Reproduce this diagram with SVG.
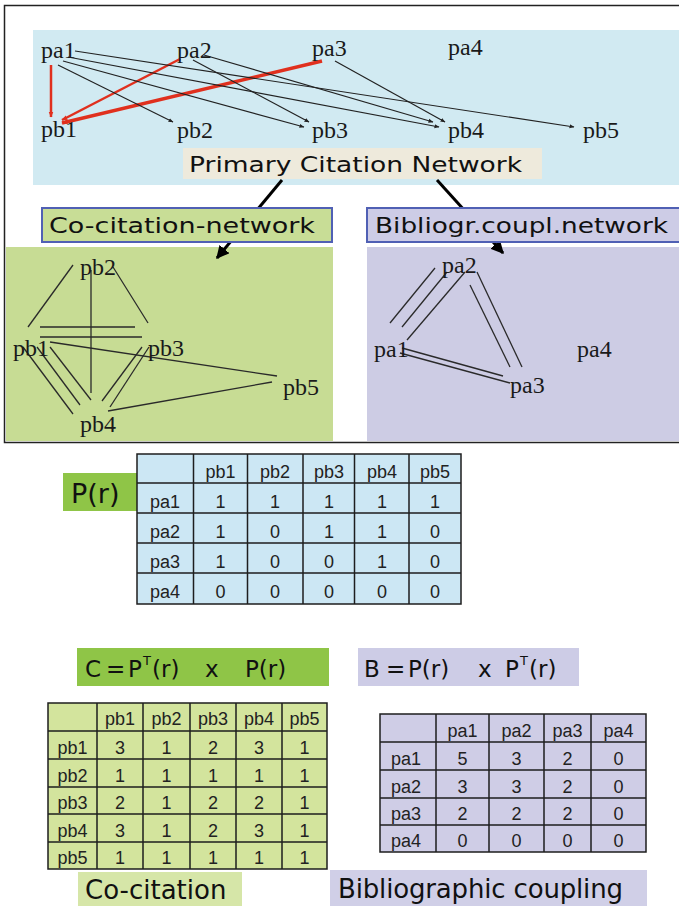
<svg xmlns="http://www.w3.org/2000/svg" width="679" height="906" viewBox="0 0 679 906">
<style>
.ser{font-family:"Liberation Serif","Times New Roman",serif;font-size:24px;fill:#1a1a1a}
.sans{font-family:"DejaVu Sans",Verdana,sans-serif;fill:#111}
.tb{font-family:"Liberation Sans",Arial,sans-serif;font-size:18px;fill:#222;text-anchor:middle}
.thin{stroke:#222;stroke-width:1.2;fill:none}
.red{stroke:#e0301e;fill:none}
.g{stroke:#2a2a2a;stroke-width:1.3;fill:none}
.grid{stroke:#1e1e1e;stroke-width:1.5;fill:none}
</style>
<defs>
<marker id="sm" viewBox="0 0 10 10" refX="9" refY="5" markerWidth="5" markerHeight="5" markerUnits="userSpaceOnUse" orient="auto"><path d="M0,1 L10,5 L0,9 z" fill="#222"/></marker>
<marker id="smr" viewBox="0 0 10 10" refX="9" refY="5" markerWidth="6" markerHeight="6" markerUnits="userSpaceOnUse" orient="auto"><path d="M0,1 L10,5 L0,9 z" fill="#e0301e"/></marker>
<marker id="big" viewBox="0 0 10 10" refX="9" refY="5" markerWidth="13" markerHeight="13" markerUnits="userSpaceOnUse" orient="auto"><path d="M0,0 L10,5 L0,10 z" fill="#000"/></marker>
</defs>

<!-- frame and panels -->
<rect x="4.5" y="5.5" width="690" height="437" fill="#ffffff" stroke="#222" stroke-width="1.5"/>
<rect id="primary-panel" x="33" y="30" width="646" height="155" fill="#d1eaf2"/>
<rect id="cocit-panel" x="6" y="247" width="327" height="194" fill="#c7dc94"/>
<rect id="biblio-panel" x="367" y="247" width="312" height="194" fill="#cdcce4"/>

<!-- connectors -->
<g id="connectors">
  <line class="red" stroke-width="2.5" x1="51" y1="65" x2="51" y2="117" marker-end="url(#smr)"/>
  <line class="red" stroke-width="2.5" x1="180" y1="59" x2="62" y2="120" marker-end="url(#smr)"/>
  <line class="red" stroke-width="3.5" x1="322" y1="61" x2="62" y2="123" marker-end="url(#smr)"/>
  <line class="thin" x1="58" y1="65" x2="173" y2="122" marker-end="url(#sm)"/>
  <line class="thin" x1="63" y1="61" x2="304" y2="127" marker-end="url(#sm)"/>
  <line class="thin" x1="68" y1="57" x2="439" y2="127" marker-end="url(#sm)"/>
  <line class="thin" x1="75" y1="51" x2="574" y2="127" marker-end="url(#sm)"/>
  <line class="thin" x1="193" y1="60" x2="309" y2="122" marker-end="url(#sm)"/>
  <line class="thin" x1="204" y1="55" x2="433" y2="122" marker-end="url(#sm)"/>
  <line class="thin" x1="335" y1="61" x2="445" y2="122" marker-end="url(#sm)"/>
  <line stroke="#000" stroke-width="3" x1="282" y1="180" x2="217" y2="258" marker-end="url(#big)"/>
  <line stroke="#000" stroke-width="3" x1="437" y1="180" x2="503" y2="253" marker-end="url(#big)"/>
  <!-- co-citation network edges -->
  <line class="g" x1="73" y1="265" x2="28" y2="327"/>
  <line class="g" x1="113" y1="267" x2="148" y2="323"/>
  <line class="g" x1="91" y1="270" x2="91" y2="393"/>
  <line class="g" x1="40" y1="327" x2="135" y2="327"/>
  <line class="g" x1="40" y1="337" x2="142" y2="337"/>
  <line class="g" x1="50" y1="342" x2="277" y2="376"/>
  <line class="g" x1="272" y1="382" x2="108" y2="411"/>
  <line class="g" x1="23" y1="347" x2="73" y2="414"/>
  <line class="g" x1="37" y1="347" x2="80" y2="405"/>
  <line class="g" x1="50" y1="347" x2="91" y2="400"/>
  <line class="g" x1="142" y1="347" x2="102" y2="401"/>
  <line class="g" x1="149" y1="347" x2="110" y2="407"/>
  <!-- bibliographic coupling edges -->
  <line class="g" x1="435" y1="268" x2="390" y2="323"/>
  <line class="g" x1="447" y1="272" x2="402" y2="327"/>
  <line class="g" x1="465" y1="272" x2="407" y2="340"/>
  <line class="g" x1="470" y1="285" x2="510" y2="367"/>
  <line class="g" x1="477" y1="272" x2="522" y2="367"/>
  <line class="g" x1="402" y1="348" x2="503" y2="376"/>
  <line class="g" x1="400" y1="353" x2="510" y2="383"/>
</g>

<!-- primary network nodes -->
<g id="pa1"><text class="ser" x="41" y="58">pa1</text></g>
<g id="pa2"><text class="ser" x="177" y="58">pa2</text></g>
<g id="pa3"><text class="ser" x="312" y="56">pa3</text></g>
<g id="pa4"><text class="ser" x="448" y="55">pa4</text></g>
<g id="pb1"><text class="ser" x="41" y="137">pb1</text></g>
<g id="pb2"><text class="ser" x="177" y="138">pb2</text></g>
<g id="pb3"><text class="ser" x="312" y="138">pb3</text></g>
<g id="pb4"><text class="ser" x="448" y="138">pb4</text></g>
<g id="pb5"><text class="ser" x="583" y="138">pb5</text></g>

<g id="primary-label">
  <rect x="183" y="148" width="359" height="31" fill="#eeeadc"/>
  <text class="sans" x="189" y="172" font-size="21" textLength="333" lengthAdjust="spacingAndGlyphs">Primary Citation Network</text>
</g>

<g id="cocit-label">
  <rect x="42" y="208" width="290" height="34" fill="#c8dd96" stroke="#5060b4" stroke-width="2"/>
  <text class="sans" x="49" y="233" font-size="21.5" textLength="266" lengthAdjust="spacingAndGlyphs">Co-citation-network</text>
</g>
<g id="biblio-label">
  <rect x="367" y="208" width="320" height="34" fill="#cdcce6" stroke="#5060b4" stroke-width="2"/>
  <text class="sans" x="375" y="233" font-size="21.5" textLength="293" lengthAdjust="spacingAndGlyphs">Bibliogr.coupl.network</text>
</g>

<!-- co-citation network nodes -->
<g id="cc-pb2"><text class="ser" font-size="25" x="80" y="275">pb2</text></g>
<g id="cc-pb1"><text class="ser" font-size="25" x="13" y="356">pb1</text></g>
<g id="cc-pb3"><text class="ser" font-size="25" x="148" y="356">pb3</text></g>
<g id="cc-pb5"><text class="ser" font-size="25" x="283" y="395">pb5</text></g>
<g id="cc-pb4"><text class="ser" font-size="25" x="80" y="432">pb4</text></g>

<!-- bibliographic coupling nodes -->
<g id="bc-pa2"><text class="ser" font-size="25" x="442" y="273">pa2</text></g>
<g id="bc-pa1"><text class="ser" font-size="25" x="374" y="357">pa1</text></g>
<g id="bc-pa3"><text class="ser" font-size="25" x="510" y="393">pa3</text></g>
<g id="bc-pa4"><text class="ser" font-size="25" x="577" y="357">pa4</text></g>

<!-- P(r) -->
<g id="pr-label">
  <rect x="63" y="473" width="74" height="38" fill="#8fc547"/>
  <text class="sans" x="71" y="503" font-size="27">P(r)</text>
</g>
<g id="pr-table">
  <rect x="137" y="454" width="324" height="150" fill="#cce7f4"/>
  <path class="grid" d="M137,454H461V604H137Z M193.5,454V604 M247.5,454V604 M303,454V604 M354.5,454V604 M409,454V604 M137,483H461 M137,513H461 M137,543H461 M137,573H461"/>
  <text class="tb" y="478"><tspan x="220.5">pb1</tspan><tspan x="275">pb2</tspan><tspan x="329">pb3</tspan><tspan x="382">pb4</tspan><tspan x="435">pb5</tspan></text>
  <text class="tb" y="508"><tspan x="165">pa1</tspan><tspan x="220.5">1</tspan><tspan x="275">1</tspan><tspan x="329">1</tspan><tspan x="382">1</tspan><tspan x="435">1</tspan></text>
  <text class="tb" y="538"><tspan x="165">pa2</tspan><tspan x="220.5">1</tspan><tspan x="275">0</tspan><tspan x="329">1</tspan><tspan x="382">1</tspan><tspan x="435">0</tspan></text>
  <text class="tb" y="568"><tspan x="165">pa3</tspan><tspan x="220.5">1</tspan><tspan x="275">0</tspan><tspan x="329">0</tspan><tspan x="382">1</tspan><tspan x="435">0</tspan></text>
  <text class="tb" y="598"><tspan x="165">pa4</tspan><tspan x="220.5">0</tspan><tspan x="275">0</tspan><tspan x="329">0</tspan><tspan x="382">0</tspan><tspan x="435">0</tspan></text>
</g>

<!-- formulas -->
<g id="formula-c">
  <rect x="77" y="648" width="252" height="38" fill="#8fc547"/>
  <g class="sans" font-size="23">
    <text x="85" y="677">C</text><text x="106" y="677">=</text><text x="128" y="677">P</text>
    <text x="143" y="665" font-size="13">T</text><text x="152" y="677">(r)</text>
    <text x="205" y="677">x</text><text x="245" y="677">P(r)</text>
  </g>
</g>
<g id="formula-b">
  <rect x="358" y="648" width="221" height="38" fill="#cdcce6"/>
  <g class="sans" font-size="23">
    <text x="364" y="677">B</text><text x="386" y="677">=</text><text x="408" y="677">P(r)</text>
    <text x="478" y="677">x</text><text x="505" y="677">P</text>
    <text x="520" y="665" font-size="13">T</text><text x="529" y="677">(r)</text>
  </g>
</g>

<!-- C table -->
<g id="c-table">
  <rect x="48" y="703" width="279" height="166" fill="#d3e49d"/>
  <path class="grid" d="M48,703H327V869H48Z M97,703V869 M143,703V869 M190,703V869 M236,703V869 M282,703V869 M48,731H327 M48,759H327 M48,787H327 M48,814H327 M48,842H327"/>
  <text class="tb" y="725"><tspan x="120">pb1</tspan><tspan x="166.5">pb2</tspan><tspan x="213">pb3</tspan><tspan x="259">pb4</tspan><tspan x="304.5">pb5</tspan></text>
  <text class="tb" y="754"><tspan x="72.5">pb1</tspan><tspan x="120">3</tspan><tspan x="166.5">1</tspan><tspan x="213">2</tspan><tspan x="259">3</tspan><tspan x="304.5">1</tspan></text>
  <text class="tb" y="782"><tspan x="72.5">pb2</tspan><tspan x="120">1</tspan><tspan x="166.5">1</tspan><tspan x="213">1</tspan><tspan x="259">1</tspan><tspan x="304.5">1</tspan></text>
  <text class="tb" y="809"><tspan x="72.5">pb3</tspan><tspan x="120">2</tspan><tspan x="166.5">1</tspan><tspan x="213">2</tspan><tspan x="259">2</tspan><tspan x="304.5">1</tspan></text>
  <text class="tb" y="837"><tspan x="72.5">pb4</tspan><tspan x="120">3</tspan><tspan x="166.5">1</tspan><tspan x="213">2</tspan><tspan x="259">3</tspan><tspan x="304.5">1</tspan></text>
  <text class="tb" y="864"><tspan x="72.5">pb5</tspan><tspan x="120">1</tspan><tspan x="166.5">1</tspan><tspan x="213">1</tspan><tspan x="259">1</tspan><tspan x="304.5">1</tspan></text>
</g>

<!-- B table -->
<g id="b-table">
  <rect x="380" y="714" width="266" height="138" fill="#cfcde6"/>
  <path class="grid" d="M380,714H646V852H380Z M436,714V852 M489,714V852 M544,714V852 M591,714V852 M380,742H646 M380,770H646 M380,798H646 M380,825H646"/>
  <text class="tb" y="737"><tspan x="462.5">pa1</tspan><tspan x="516.5">pa2</tspan><tspan x="567.5">pa3</tspan><tspan x="618.5">pa4</tspan></text>
  <text class="tb" y="765"><tspan x="406">pa1</tspan><tspan x="462.5">5</tspan><tspan x="516.5">3</tspan><tspan x="567.5">2</tspan><tspan x="618.5">0</tspan></text>
  <text class="tb" y="793"><tspan x="406">pa2</tspan><tspan x="462.5">3</tspan><tspan x="516.5">3</tspan><tspan x="567.5">2</tspan><tspan x="618.5">0</tspan></text>
  <text class="tb" y="820"><tspan x="406">pa3</tspan><tspan x="462.5">2</tspan><tspan x="516.5">2</tspan><tspan x="567.5">2</tspan><tspan x="618.5">0</tspan></text>
  <text class="tb" y="847"><tspan x="406">pa4</tspan><tspan x="462.5">0</tspan><tspan x="516.5">0</tspan><tspan x="567.5">0</tspan><tspan x="618.5">0</tspan></text>
</g>

<!-- bottom labels -->
<g id="cocitation-caption">
  <rect x="78" y="872" width="164" height="34" fill="#d6e6a8"/>
  <text class="sans" x="85" y="899" font-size="26">Co-citation</text>
</g>
<g id="biblio-caption">
  <rect x="330" y="870" width="317" height="36" fill="#d0cfe7"/>
  <text class="sans" x="338" y="898" font-size="26" textLength="285" lengthAdjust="spacing">Bibliographic coupling</text>
</g>
</svg>
